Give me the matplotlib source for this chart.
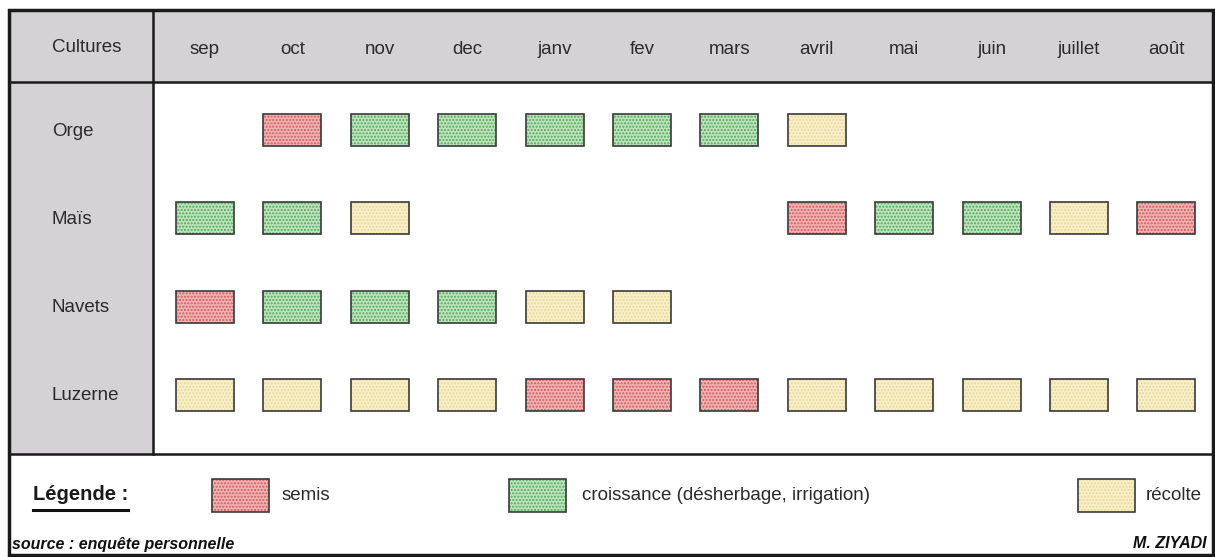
import numpy as np
import matplotlib.pyplot as plt
from matplotlib.patches import Rectangle

plt.rcParams['font.family'] = ['Liberation Sans', 'DejaVu Sans']

# ---- data ----
months = ['sep', 'oct', 'nov', 'dec', 'janv', 'fev', 'mars', 'avril', 'mai', 'juin', 'juillet', 'août']
crops = ['Orge', 'Maïs', 'Navets', 'Luzerne']
# S = semis, C = croissance, R = récolte, '' = rien
orge    = ['', 'S', 'C', 'C', 'C', 'C', 'C', 'R', '', '', '', '']
mais    = ['C', 'C', 'R', '', '', '', '', 'S', 'C', 'C', 'R', 'S']
navets  = ['S', 'C', 'C', 'C', 'R', 'R', '', '', '', '', '', '']
luzerne = ['R', 'R', 'R', 'R', 'S', 'S', 'S', 'R', 'R', 'R', 'R', 'R']
schedule = [orge, mais, navets, luzerne]

stages = ['S', 'C', 'R']
stage_labels = ['semis', 'croissance (désherbage, irrigation)', 'récolte']

# ---- style ----
fill = {'S': '#efb3b3', 'C': '#bde3bd', 'R': '#f9efc6'}
dots = {'S': '#d65a5a', 'C': '#54a85a', 'R': '#e8d9a0'}
grey = '#d4d2d4'
txt = '#2b2b2b'
W, H = 1215, 557
x0, dx = 205, 87.4     # pixel centre of first month, spacing
y0, dy = 130, 88.3     # pixel centre of first crop row, spacing
bw, bh = 58, 32

fig = plt.figure(figsize=(W / 100, H / 100), dpi=100)
bg = fig.add_axes([0, 0, 1, 1])
bg.set_xlim(0, W)
bg.set_ylim(H, 0)
bg.axis('off')

# grey header and first column
bg.add_patch(Rectangle((9, 10), W - 11, 72, fc=grey, ec='none', zorder=0))
bg.add_patch(Rectangle((9, 82), 144, 372, fc=grey, ec='none', zorder=0))
# frame lines
bg.add_patch(Rectangle((9, 10), W - 11, H - 12, fc='none', ec='#1a1a1a', lw=2.5, zorder=5))
bg.plot([9, W - 2], [82, 82], c='#1a1a1a', lw=1.8, zorder=5)
bg.plot([9, W - 2], [454, 454], c='#1a1a1a', lw=1.8, zorder=5)
bg.plot([153, 153], [10, 454], c='#1a1a1a', lw=1.8, zorder=5)

# data axes, month index on x, crop index on y
ax = fig.add_axes([0, 0, 1, 1], facecolor='none')
ax.set_xlim(-x0 / dx, (W - x0) / dx)
ax.set_ylim((H - y0) / dy, -y0 / dy)
ax.axis('off')

def boxes(axis, xs, ys, w, h, st):
    axis.bar(xs, h, width=w, bottom=np.asarray(ys) - h / 2, color=fill[st],
             edgecolor=dots[st], hatch='.....', lw=0, zorder=2)
    axis.bar(xs, h, width=w, bottom=np.asarray(ys) - h / 2, color='none',
             edgecolor='#3a3a3a', lw=1.2, zorder=3)

for st in stages:
    xs, ys = [], []
    for j, row in enumerate(schedule):
        for i, s in enumerate(row):
            if s == st:
                xs.append(i)
                ys.append(j)
    if xs:
        boxes(ax, xs, ys, bw / dx, bh / dy, st)

# labels
for i, m in enumerate(months):
    ax.text(i, -y0 / dy + 50 / dy, m, ha='center', va='center', fontsize=13.5, color=txt)
bg.text(52, 48, 'Cultures', ha='left', va='center', fontsize=13.5, color=txt)
for j, c in enumerate(crops):
    ax.text(-x0 / dx + 52 / dx, j + 1 / dy, c, ha='left', va='center', fontsize=13.5, color=txt)

# legend
bg.text(33, 495, 'Légende :', ha='left', va='center', fontsize=14.5, fontweight='bold', color='#1a1a1a')
bg.plot([33, 128], [510, 510], c='#111111', lw=2.2)
leg_x = [212, 509, 1078]
leg_tx = [282, 582, 1146]
for k, st in enumerate(stages):
    bg.add_patch(Rectangle((leg_x[k], 479), 57, 33, fc=fill[st], ec=dots[st], hatch='.....', lw=0, zorder=2))
    bg.add_patch(Rectangle((leg_x[k], 479), 57, 33, fc='none', ec='#3a3a3a', lw=1.2, zorder=3))
    bg.text(leg_tx[k], 495, stage_labels[k], ha='left', va='center', fontsize=13.5, color=txt)

bg.text(12, 544, 'source : enquête personnelle', ha='left', va='center', fontsize=11.5,
        fontweight='bold', style='italic', color='#111111')
bg.text(1207, 544, 'M. ZIYADI', ha='right', va='center', fontsize=11.5,
        fontweight='bold', style='italic', color='#111111')

fig.savefig('out.png', dpi=100)
